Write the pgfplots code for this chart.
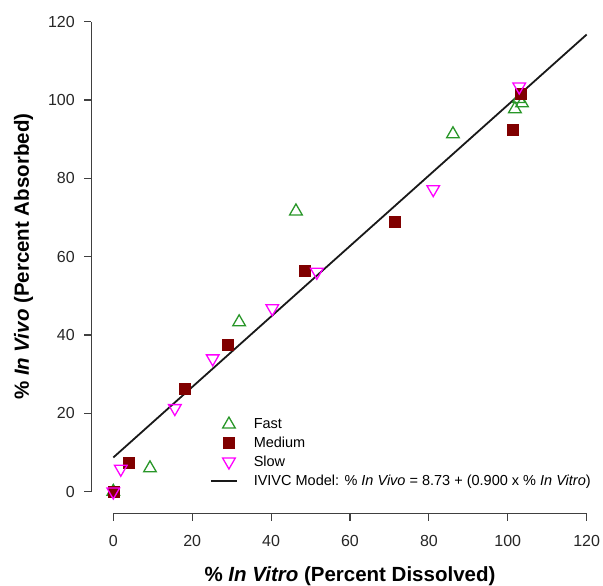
\documentclass[border=0pt]{standalone}
\usepackage{pgfplots}
\pgfplotsset{compat=1.18}
\usepackage{fontspec}
\setmainfont{Liberation Sans}
\definecolor{fastc}{RGB}{40,150,40}
\definecolor{medc}{RGB}{128,0,0}
\definecolor{slowc}{RGB}{255,0,255}
\pgfplotsset{
  markleg/.style={legend image code/.code={\path[draw=none,fill=none] (0pt,0pt) -- (26pt,0pt); \draw[##1] plot coordinates {(18pt,0pt)};}},
  lineleg/.style={legend image code/.code={\draw[##1, line width=1.6pt] (0pt,0pt) -- (26pt,0pt);}},
}
\begin{document}
\begin{tikzpicture}[x=1pt,y=1pt]
\begin{axis}[
  name=ax, at={(0,0)}, anchor=south west,
  scale only axis, width=473.4pt, height=470pt,
  xmin=0, xmax=120, ymin=0, ymax=120,
  clip=false,
  axis lines=left,
  axis line shift=22pt,
  axis line style={-, line width=1.1pt, color=black!75},
  tick style={line width=1.1pt, color=black!75},
  tick align=outside,
  major tick length=7pt,
  xtick={0,20,...,120}, ytick={0,20,...,120},
  xticklabel shift=11pt, yticklabel shift=6pt,
  /pgf/number format/assume math mode=true,
  tick label style={font=\fontsize{16}{18}\selectfont, color=black!85},
  label style={font=\fontsize{20.5}{24}\selectfont\bfseries},
  xlabel style={yshift=-13pt},
  ylabel style={yshift=8pt},
  xlabel={\% \textit{In Vitro} (Percent Dissolved)},
  ylabel={\% \textit{In Vivo} (Percent Absorbed)},
  legend style={draw=none, fill=none, at={(axis cs:24.5,19.1)}, anchor=north west,
    font=\fontsize{14.5}{16}\selectfont, row sep=4.8pt, column sep=15pt, inner sep=0pt,
    nodes={inner sep=1pt}},
  legend cell align=left,
]
\addplot[only marks, mark=triangle, mark size=7.3pt, color=fastc, line width=1.3pt, markleg]
  coordinates {(0,0) (9.3,6.0) (31.9,43.3) (46.3,71.6) (86.1,91.3) (101.8,97.7) (103.6,99.2) (102.8,100.3)};
\addlegendentry{Fast}
\addplot[only marks, mark=square*, mark size=5.5pt, color=medc, markleg]
  coordinates {(0,0) (3.8,7.5) (18.0,26.2) (29.1,37.5) (48.4,56.5) (71.4,69.0) (101.2,92.3) (103.2,101.7)};
\addlegendentry{Medium}
\addplot[only marks, mark=triangle, mark size=7.3pt, color=slowc, line width=1.3pt,
  mark options={rotate=180}, markleg]
  coordinates {(0,0) (1.9,5.8) (15.6,21.3) (25.2,34.0) (40.3,46.8) (51.6,56.1) (81.1,77.2) (102.9,103.4)};
\addlegendentry{Slow}
\addplot[black!90, line width=1.8pt, no markers, lineleg]
  coordinates {(0,8.73) (120,116.73)};
\addlegendentry{IVIVC Model: \% \textit{In Vivo} = 8.73 + (0.900 x \% \textit{In Vitro})}
\end{axis}
\pgfresetboundingbox
\path (-113.3pt,-94.3pt) rectangle (489.7pt,491.7pt);
\end{tikzpicture}
\end{document}
